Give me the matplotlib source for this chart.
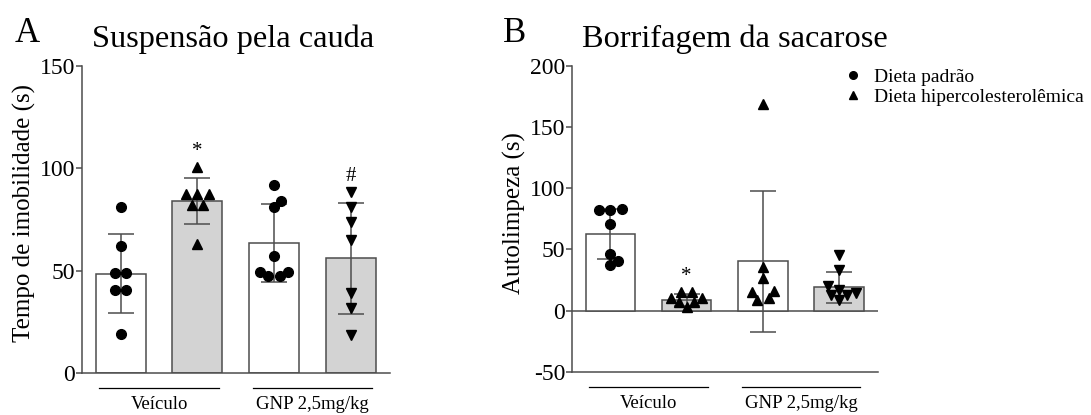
import numpy as np
import matplotlib
matplotlib.use("Agg")
import matplotlib.pyplot as plt
from matplotlib.lines import Line2D
from matplotlib.transforms import blended_transform_factory

plt.rcParams['font.family'] = ['Liberation Serif', 'DejaVu Serif']
plt.rcParams['axes.unicode_minus'] = False

# ---------------- data ----------------
groups = ["Veículo", "GNP 2,5mg/kg"]
legend_labels = ["Dieta padrão", "Dieta hipercolesterolêmica"]

a_letter = "A"
a_title = "Suspensão pela cauda"
a_ylabel = "Tempo de imobilidade (s)"
a_means = [48.5, 84.0, 63.4, 56.0]
a_sd = [19.2, 11.3, 18.9, 27.0]
a_points = [
    [81, 62, 49, 49, 40.5, 40.5, 19],
    [100.6, 87.3, 87.3, 87.3, 82, 82, 63],
    [92, 84, 81, 57, 49.4, 49.4, 47.3, 47.3],
    [88.4, 80.8, 73.8, 65, 38.9, 31.5, 18.5],
]
a_marks = ["", "*", "", "#"]
a_yticks = [0, 50, 100, 150]

b_letter = "B"
b_title = "Borrifagem da sacarose"
b_ylabel = "Autolimpeza (s)"
b_means = [62.8, 9.0, 40.4, 19.0]
b_sd = [20.3, 4.9, 57.5, 12.5]
b_points = [
    [82, 82, 83, 71, 46.5, 41, 37],
    [15.3, 15.3, 10.3, 10.3, 6.8, 6.8, 2.7],
    [169, 36, 27, 16.5, 15.5, 10.3, 9],
    [45.7, 32.9, 19.8, 17.1, 14.4, 13, 13, 9],
]
b_marks = ["", "*", "", ""]
b_yticks = [-50, 0, 50, 100, 150, 200]

# ---------------- style ----------------
W, H = 1091, 415
fig = plt.figure(figsize=(W / 100, H / 100), dpi=100)

bar_colors = ["white", "#d3d3d3", "white", "#d3d3d3"]
a_markers = ["o", "^", "o", "v"]
b_markers = ["o", "^", "^", "v"]
edge = "#4d4d4d"
DIAM = 9.5  # marker diameter in px for swarm layout


def swarm_offsets(values, ax, xc):
    vals = np.asarray(values, float)
    p0 = ax.transData.transform([(xc, 0)])[0]
    p1 = ax.transData.transform([(xc + 1, 1)])[0]
    xs = p1[0] - p0[0]
    ys = p1[1] - p0[1]
    ypx = vals * ys
    order = np.argsort(vals, kind="stable")
    rows = []
    for idx in order:
        if rows and abs(ypx[idx] - ypx[rows[-1][0]]) < 0.3 * DIAM:
            rows[-1].append(idx)
        else:
            rows.append([idx])
    placed = []
    offs = np.zeros(len(vals))
    S = 1.2 * DIAM

    def ok(xpos, y):
        for (px, py) in placed:
            if np.hypot(px - xpos, py - y) < 0.95 * DIAM:
                return False
        return True

    side = 1
    for row in rows:
        n = len(row)
        base = (np.arange(n) - (n - 1) / 2) * S
        chosen = None
        if n > 1:
            for e in np.arange(0, 2.5 * DIAM, 0.5):
                c = np.sign(base) * (np.abs(base) + e)
                if all(ok(c[k], ypx[row[k]]) for k in range(n)):
                    chosen = c
                    break
        if chosen is not None:
            for k, idx in enumerate(row):
                offs[idx] = chosen[k]
                placed.append((chosen[k], ypx[idx]))
            continue
        for idx in row:
            for e in np.arange(0, 80, 0.5):
                done = False
                for sgn in (side, -side):
                    if ok(sgn * e, ypx[idx]):
                        offs[idx] = sgn * e
                        placed.append((sgn * e, ypx[idx]))
                        if e > 0:
                            side = -sgn
                        done = True
                        break
                if done:
                    break
    return offs / xs


def panel(rect, ylim, yticks, means, sds, points, markers, marks,
          letter, title, ylabel, letter_x, title_x, zero_line):
    ax = fig.add_axes(rect)
    x = np.arange(len(means))
    ax.set_xlim(-0.503, 3.51)
    ax.set_ylim(*ylim)
    ax.bar(x, means, width=0.65, color=bar_colors, edgecolor=edge,
           linewidth=1.1, zorder=2)
    ax.errorbar(x, means, yerr=sds, fmt="none", ecolor=edge,
                elinewidth=1.1, capsize=9.5, capthick=1.1, zorder=3)
    for i, pts in enumerate(points):
        off = swarm_offsets(pts, ax, x[i])
        ms = 7 if markers[i] == "o" else 6.5
        ax.plot(x[i] + off, pts, linestyle="none", marker=markers[i],
                ms=ms, color="black", zorder=4, clip_on=False)
        if marks[i]:
            ax.annotate(marks[i], (x[i], max(pts)), xytext=(0, 4),
                        textcoords="offset points", ha="center",
                        va="bottom", fontsize=15, zorder=5)
    if zero_line:
        ax.axhline(0, color=edge, lw=1.1, zorder=1)
    for s in ["top", "right"]:
        ax.spines[s].set_visible(False)
    for s in ["left", "bottom"]:
        ax.spines[s].set_color(edge)
        ax.spines[s].set_linewidth(1.1)
    ax.set_xticks([])
    ax.set_yticks(yticks)
    ax.tick_params(axis="y", length=4, width=1.1, color=edge, pad=1,
                   labelsize=17)
    ax.set_ylabel(ylabel, fontsize=18, va="center")
    ax.yaxis.set_label_coords(-0.188, 0.52)
    tr = blended_transform_factory(ax.transData, ax.transAxes)
    for g, name in enumerate(groups):
        c = 2 * g + 0.5
        ax.plot([c - 0.78, c + 0.78], [-0.049, -0.049], transform=tr,
                color="black", lw=0.9, clip_on=False)
        ax.text(c, -0.104, name, transform=tr, ha="center", va="center",
                fontsize=13.5)
    fig.text(letter_x / W, 1 - 42 / H, letter, fontsize=25, va="baseline")
    fig.text(title_x / W, 1 - 47 / H, title, fontsize=23.3, va="baseline")
    return ax


ax_a = panel([82 / W, 42 / H, 308 / W, 307.3 / H], (0, 150), a_yticks,
             a_means, a_sd, a_points, a_markers, a_marks,
             a_letter, a_title, a_ylabel, 15, 92, False)
ax_b = panel([572 / W, 43 / H, 306 / W, 306.3 / H], (-50, 200), b_yticks,
             b_means, b_sd, b_points, b_markers, b_marks,
             b_letter, b_title, b_ylabel, 503, 582, True)

handles = [Line2D([], [], linestyle="none", marker="o", ms=5.5, color="black"),
           Line2D([], [], linestyle="none", marker="^", ms=5.5, color="black")]
fig.legend(handles, legend_labels, loc="upper left",
           bbox_to_anchor=(845 / W, 1 - 68 / H), frameon=False,
           fontsize=14, handlelength=0.8, handletextpad=0.7,
           labelspacing=0.12, borderpad=0, borderaxespad=0)

fig.savefig("out.png", dpi=100)
